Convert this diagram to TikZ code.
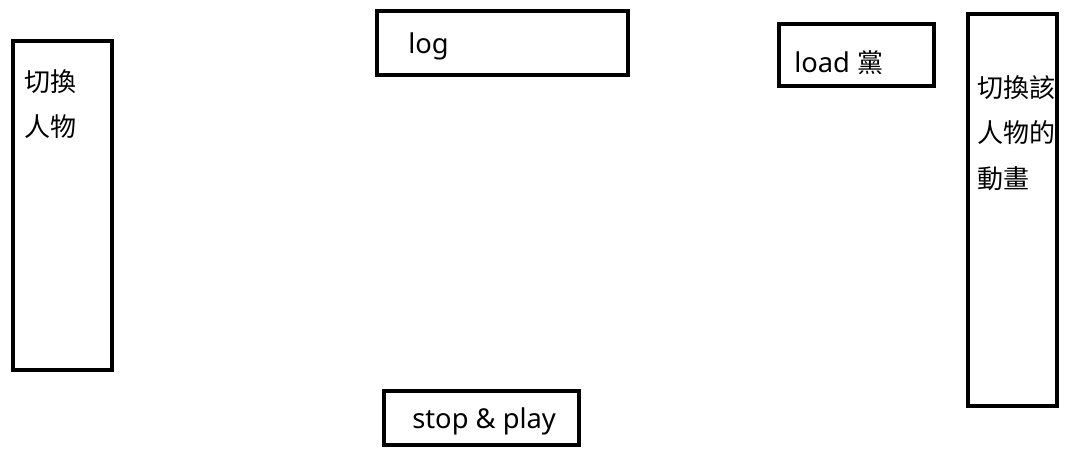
\documentclass[tikz,border=0pt]{standalone}
\usepackage{fontspec}
\setmainfont{Noto Sans CJK TC}
\newfontfamily\latinfont{Noto Sans}
\begin{document}
\begin{tikzpicture}[x=0.75pt,y=-0.75pt,
  frame/.style={draw=black,line width=3.4pt,fill=none},
  lbl/.style={anchor=west,inner sep=0pt,font=\fontsize{19.5pt}{34pt}\selectfont,align=left},
  lat/.style={lbl,font=\latinfont\fontsize{20.5pt}{34pt}\selectfont}]
\useasboundingbox (0,0) rectangle (1066,456);
\draw[frame] (13,41) rectangle (112,370);
\draw[frame] (377,11) rectangle (628,75);
\draw[frame] (779,24) rectangle (934,86);
\draw[frame] (968,14) rectangle (1057,406);
\draw[frame] (384,391) rectangle (579,445);
\node[lbl] (a) at (24,104) {切換\\人物};
\node[lat] (b) at (408,46) {log};
\node[lat] (c) at (794,63) {load {\rmfamily\fontsize{19.5pt}{34pt}\selectfont 黨}};
\node[lbl] (d) at (977,133) {切換該\\人物的\\動畫};
\node[lat] (e) at (412,421) {stop \& play};
\end{tikzpicture}
\end{document}
